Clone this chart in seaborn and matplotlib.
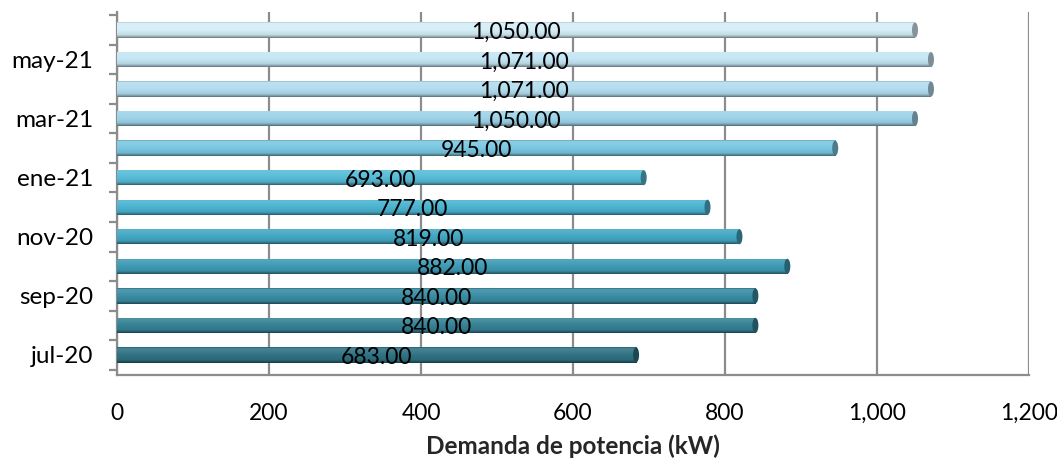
import numpy as np
import pandas as pd
import matplotlib
matplotlib.use("Agg")
import matplotlib.pyplot as plt
import matplotlib.colors as mcolors
from matplotlib.patches import Ellipse
from matplotlib.ticker import FuncFormatter
import seaborn as sns

# Monthly peak power demand
months = ["jul-20", "ago-20", "sep-20", "oct-20", "nov-20", "dic-20",
          "ene-21", "feb-21", "mar-21", "abr-21", "may-21", "jun-21"]
demand_kw = [683, 840, 840, 882, 819, 777, 693, 945, 1050, 1071, 1071, 1050]
shown_months = ["jul-20", "sep-20", "nov-20", "ene-21", "mar-21", "may-21"]
x_ticks = [0, 200, 400, 600, 800, 1000, 1200]

# Dark teal for the oldest month fading to pale sky blue for the newest
bar_colors = ["#2f7283", "#368295", "#3a8ca3", "#3e9ab4", "#43a8c3", "#4ab3d0",
              "#58bcd8", "#7bc7e1", "#9dd3e9", "#b3ddef", "#c4e6f4", "#d5eef8"]

sns.set_theme(style="white")
plt.rcParams["font.family"] = ["Lato", "DejaVu Sans"]

df = pd.DataFrame({"mes": months, "kw": demand_kw})
order = months[::-1]
palette = dict(zip(months, bar_colors))

fig = plt.figure(figsize=(10.57, 4.63), dpi=100)
ax = fig.add_axes([117 / 1057, 1 - 375 / 463, (1029 - 117) / 1057, (375 - 12) / 463])

sns.barplot(data=df, y="mes", x="kw", hue="mes", order=order, hue_order=order,
            palette=palette, orient="h", width=0.52, legend=False,
            saturation=1, ax=ax, zorder=3)

# Cylinder shading: soft vertical light/dark profile clipped to each bar
rows = np.linspace(0, 1, 64)
profile = np.interp(rows, [0, 0.06, 0.2, 0.5, 0.8, 0.92, 1.0],
                    [-0.25, 0.12, 0.1, 0.0, -0.08, -0.3, -0.5])
px_per_unit = (1029 - 117) / 1200
for patch in ax.patches:
    x0, y0 = patch.get_x(), patch.get_y()
    w, h = patch.get_width(), patch.get_height()
    base = np.array(mcolors.to_rgb(patch.get_facecolor()))
    img = np.zeros((len(rows), 1, 3))
    for i, p in enumerate(profile):
        if p >= 0:
            img[i, 0] = base + (1 - base) * p
        else:
            img[i, 0] = base * (1 + p)
    im = ax.imshow(img, extent=(x0, x0 + w, y0 + h, y0), aspect="auto",
                   interpolation="bilinear", zorder=4)
    im.set_clip_path(patch)
    patch.set_edgecolor("none")
    # rounded end cap of the cylinder
    cap_w = 6 / px_per_unit
    ax.add_patch(Ellipse((x0 + w, y0 + h / 2), cap_w, h * 0.98,
                         facecolor=tuple(base * 0.62), edgecolor="none", zorder=5))

# Value labels centred on each bar
for mes, val in zip(months, demand_kw):
    y = order.index(mes)
    ax.text(val / 2, y + 0.08, f"{val:,.2f}", ha="center", va="center",
            fontsize=16.5, color="black", zorder=6)

ax.set_xlim(0, 1200)
ax.set_ylim(len(months) - 1 + 0.68, -0.61)

ax.set_xticks(x_ticks)
ax.xaxis.set_major_formatter(FuncFormatter(lambda v, _: f"{int(v):,}"))
ax.set_yticks(range(len(order)))
ax.set_yticklabels([m if m in shown_months else "" for m in order])
ax.set_yticks([k + 0.5 for k in range(-1, len(order))], minor=True)

grid_c = "#8c8c8c"
ax.grid(axis="x", color=grid_c, linewidth=1.6, zorder=0)
ax.grid(axis="y", visible=False)
for side in ["top", "right"]:
    ax.spines[side].set_visible(False)
for side in ["left", "bottom"]:
    ax.spines[side].set_color(grid_c)
    ax.spines[side].set_linewidth(1.6)

ax.tick_params(axis="x", which="major", length=7, width=1.6, color=grid_c,
               direction="out", pad=13, labelsize=16.5, labelcolor="black")
ax.tick_params(axis="y", which="major", length=0, pad=17, labelsize=17.5,
               labelcolor="black")
ax.tick_params(axis="y", which="minor", length=6, width=1.6, color=grid_c,
               direction="out", left=True)

ax.set_ylabel("")
ax.set_xlabel("Demanda de potencia (kW)", fontsize=17.5, fontweight="bold",
              labelpad=8)

fig.savefig("out.png", dpi=100)
